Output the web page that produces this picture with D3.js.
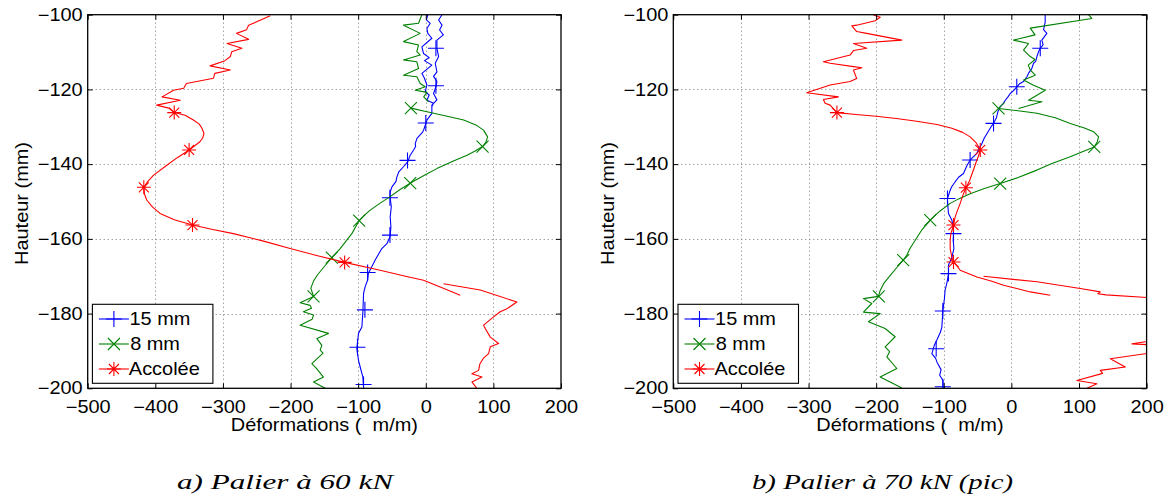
<!DOCTYPE html>
<html>
<head>
<meta charset="utf-8">
<script src="https://cdn.jsdelivr.net/npm/d3@7/dist/d3.min.js"></script>
<style>
  html, body { margin: 0; padding: 0; background: #fff; }
  .sx { transform-box: fill-box; transform-origin: 50% 50%; transform: scaleX(1.14); }
  .sxr { transform-box: fill-box; transform-origin: 100% 50%; transform: scaleX(1.14); }
</style>
</head>
<body>
<svg id="chart" width="1168" height="497"></svg>
<script>
// ---------------- DATA ----------------
const xTicks = [-500, -400, -300, -200, -100, 0, 100, 200];
const yTicks = [-100, -120, -140, -160, -180, -200];
const seriesNames = ["15 mm", "8 mm", "Accolée"];
const captions = ["a) Palier à 60 kN", "b) Palier à 70 kN (pic)"];
const xLabel = "Déformations (\u00a0\u00a0m/m)";
const yLabel = "Hauteur (mm)";

// Panel a (60 kN): [deformation, height]; null = break in the line
const a15 = [[3,-100],[1,-101.4],[6.6,-102.3],[1.7,-103.7],[3,-105],[9,-106.3],[-5.7,-108.6],[-3.3,-110.4],[5,-111.5],[-2,-112.3],[9,-113.5],[-5.7,-115.7],[-2,-117],[1.7,-118.8],[-0.8,-120.6],[5,-121.5],[1.7,-122.9],[11.5,-123.7],[9,-124.6],
  null,
  [24,-100],[19,-101.4],[24,-102.8],[20.4,-104.1],[26,-105.4],[16.5,-106.8],[16.5,-109],[19,-111.2],[14,-113],[16.5,-115.3],[11.5,-116.5],[16.5,-117.9],[15,-119.3],[11.5,-121.1],[16.5,-122.8],[9,-124.2],[9,-126.4],[1.7,-128.2],[0,-129.2],[-3.3,-130.9],[-5,-131.5],[-13,-133.1],[-15.6,-134.5],[-15,-135.3],[-18,-136.2],[-23,-137.6],[-26.5,-139.3],[-33,-140.7],[-40,-142.1],[-42.7,-143.4],[-44,-144.6],[-50,-146.1],[-52.6,-147.4],[-52.6,-149.1],[-51,-151.4],[-52.6,-154.1],[-51.6,-156.8],[-52.6,-159.3],[-57.5,-161.3],[-65,-162.6],[-75,-165.7],[-80,-167.5],[-85,-169.3],[-86,-171],[-89.6,-172.8],[-92,-174.6],[-93,-179.5],[-94.5,-183.6],[-99.5,-185.3],[-102,-189.4],[-99.5,-192.5],[-97,-194.3],[-93,-197],[-92,-200]];
const a15Marks = [[15,-109],[15,-119],[0,-129],[-27,-139],[-53,-149],[-53,-159],[-86,-169],[-90,-179],[-101,-189],[-92,-199]];

const a8 = [[-5.8,-100],[-10.7,-102.3],[-32.9,-102.8],[-8.2,-105],[-32.9,-107.2],[-10.7,-108.1],[-13.2,-109.9],[-8.2,-110.8],[-32.9,-112.1],[-13.2,-112.6],[-10.7,-114.4],[-32.9,-116.2],[-13.2,-116.6],[-8.2,-118.4],[-0.8,-119.3],[-15.6,-120.2],[1.7,-120.8],[-3,-122],[4,-123.3],
  null,
  [-22,-125],[1.7,-126],[30,-127.1],[56,-128.2],[74,-129.5],[85.5,-130.9],[91.4,-132.7],[89,-134.1],[84,-135.3],[73,-136.5],[61,-137.6],[40,-139.2],[16.4,-141.2],[0,-142.8],[-18,-144.6],[-23,-145.1],[-38,-146.8],[-52.6,-148.7],[-68,-150.5],[-82.2,-152.3],[-91,-153.7],[-98.5,-155.1],[-109.3,-158.6],[-118,-160.6],[-126.6,-162.6],[-139,-165],[-150,-167.4],[-160,-169.6],[-166,-171.3],[-170,-173.2],[-166,-175.4],
  [-185.8,-177.1],[-171,-177.8],[-169,-178.6],[-181,-179.5],[-166,-180.4],[-168,-181.5],[-185.8,-183.1],[-143.9,-185.3],[-161,-186.7],[-153.7,-188.5],[-156.2,-189.8],[-152,-190.6],[-168.5,-193.4],[-162,-194.6],[-151.3,-197],[-166,-198.3],[-148.8,-200]];
const a8Marks = [[-22,-125],[84,-135.3],[-23,-145.1],[-98.5,-155.1],[-139,-165],[-166,-175.4]];

const aAcc = [[-230,-100.3],[-245,-101.5],[-262,-102.8],[-265,-104],[-280,-105],[-262,-106.6],[-294,-107.7],[-272,-109],[-287,-109.9],[-289,-111.2],[-297,-112.3],[-319,-113.7],[-289,-114.8],[-312,-115.7],[-314,-117],[-354,-118.4],[-358,-119.7],[-373,-120.2],[-390,-122],[-363,-122.9],[-398,-124.2],[-380,-125],[-372,-126.2],[-356,-126.9],[-343.7,-128.2],[-335,-129.3],[-331,-130.4],[-328,-131.8],[-330,-133],[-334,-134],[-350,-136.2],[-367,-138.2],[-383,-140.3],[-402.9,-143],[-411,-144.6],[-417,-146.2],[-416,-148],[-412.7,-149.6],[-404,-151.5],[-393,-153.2],[-372,-154.9],[-345,-156.3],[-315,-157.5],[-284.5,-158.6],[-240,-160.6],[-200.6,-162.6],[-160,-164.5],[-120,-166.3],[-67.4,-168.4],[-30,-170],[-3.3,-171.1],[21.4,-172.9],[51,-175.1],
  null,
  [26.3,-172],[80.6,-173.7],[134.8,-176.9],[120,-178.7],[110,-179.5],[100.3,-180.9],[85.5,-183.1],[88,-184],[95.4,-186.3],[107.7,-188],[95.4,-188.9],[92.9,-190.7],[85,-192],[80,-193.5],[78.1,-195.2],[68.2,-196.1],[83.1,-197],[68.2,-198.3],[75.6,-200]];
const aAccMarks = [[-372,-126.2],[-350,-136.2],[-417,-146.2],[-345,-156.3],[-120,-166.3]];

// Panel b (70 kN, pic)
const b15 = [[50,-100],[50,-102],[47.6,-104],[52.5,-105],[45,-106.8],[47,-108],[42.7,-109],[40,-110],[37.8,-111.2],[36,-112.5],[32.8,-113],[30,-114.5],[26,-115.5],[23,-116.6],[18,-117.9],[12,-118.5],[8,-119.3],[4,-120.2],[-1.7,-121.1],[-5,-122],[-9,-122.9],[-12,-123.8],[-16.5,-124.6],[-20,-126],[-22,-127.5],[-26.4,-129.1],[-30,-130],[-36,-131.8],[-40,-133],[-43.6,-134.5],[-48,-135.8],[-51,-137.1],[-56,-138],[-61,-138.9],[-66,-140.5],[-70.8,-142.5],[-78,-143.5],[-83,-144.7],[-88,-146],[-90.5,-147],[-94.5,-149.2],[-94,-151],[-93,-153.2],[-88,-155],[-86,-157],[-85.6,-158.6],[-86,-160.4],[-85,-162.6],[-88,-165],[-93,-167],[-93,-169.3],[-95,-171.5],[-98,-173.7],[-99,-176],[-101.4,-179.3],[-102.8,-183.6],[-105,-185],[-110,-187],[-114,-188.5],[-117.6,-190.7],[-112,-192],[-110,-193],[-104,-195],[-106,-196.5],[-101,-198],[-101,-200]];
const b15Marks = [[42.7,-109],[8,-119.3],[-26.4,-129.1],[-61,-138.9],[-94.5,-149.2],[-85.6,-158.6],[-93,-169.3],[-101.4,-179.3],[-111.2,-189.4],[-101.4,-199.6]];

const b8 = [[114,-100],[119,-101],[27.9,-103.6],[35,-105.4],[3.2,-106.8],[25.4,-107.7],[18,-109.5],[27.9,-111.2],[35,-112],[25,-113.5],[27.9,-114.8],[35.3,-116.2],[18,-117.5],[32,-118.8],[50.1,-120.2],[25.4,-122.9],[45.2,-123.3],[10.6,-125.1],
  null,
  [-19,-125.1],[10,-125.7],[37.8,-126.4],[65,-127.6],[87.1,-129.1],[108,-130.3],[121.6,-131.3],[129,-132.7],[127,-134],[122.6,-135.4],[105,-136.7],[87.1,-138],[60,-139.8],[37.8,-141.6],[10,-143.6],[-16.5,-145.2],[-40,-146.5],[-60.9,-147.9],[-78,-149.3],[-90.5,-150.5],[-106,-152.6],[-120,-155],[-132,-157.5],[-142,-160.3],[-150,-162.6],[-155,-164.5],[-160,-165.7],[-170,-167.8],[-180,-170],[-189,-172],[-194,-173.8],[-196.5,-175.4],
  [-218.8,-176],[-206.5,-177.3],[-218.8,-179.6],[-194,-180],[-211.4,-182.2],[-186.7,-184],[-171.9,-186.2],[-186.7,-188.9],[-180,-190.2],[-184.2,-191.6],[-169.4,-194.7],[-194.1,-197],[-179.3,-198.3],[-162,-199.9]];
const b8Marks = [[-19,-125.1],[122.6,-135.4],[-16.5,-145.2],[-120,-155],[-160,-165.7],[-196,-175.4]];

const bAcc = [[-204,-100.1],[-194,-100.7],[-201.5,-101.6],[-228.7,-102.8],[-236,-103],[-228.7,-104.5],[-214,-105],[-162,-106.8],[-233.6,-107.7],[-214,-109],[-233.6,-109.6],[-238.5,-110.8],[-278,-112.6],[-268,-113],[-233.6,-113.9],[-221,-114.2],[-233.6,-114.8],[-228.7,-117.1],[-238.5,-117.9],[-268,-118.8],[-302.7,-120.9],[-255.8,-122],[-278,-122.7],[-275.5,-123.7],[-268,-124.2],[-258,-126.2],
  [-230,-126.7],[-200,-127.2],[-170,-127.8],[-140,-128.5],[-110,-129.4],[-88,-130.4],[-72,-131.5],[-60.9,-132.7],[-52,-134.3],[-46,-136.2],[-48,-137.5],[-51,-138.9],[-56,-141.5],[-62,-144.5],[-67.3,-146.3],[-72,-148.5],[-75.7,-150.5],[-80,-152.5],[-83.1,-154.1],[-85.6,-156.3],[-89.5,-158.6],[-90.5,-160.4],[-90.5,-162.6],[-88,-165],[-85.6,-166.2],[-80,-167.3],[-75.7,-168.4],[-62,-169.4],[-51,-170.2],[-30,-171.3],[-11.6,-172.4],[8,-173.3],[27.9,-174.2],[57.5,-175.1],
  null,
  [-41.2,-170],[37.8,-171.5],[101.9,-173.3],[131.5,-174.2],[128,-174.7],[140,-175],[200.5,-175.7],[230,-176],
  null,
  [235,-186.5],[178.3,-188.1],[235,-188.6],[235,-190.4],[200.5,-190.7],[146.3,-192.1],[168.5,-194.3],[131.5,-195.2],[135,-196],[96.9,-197.9],[126.5,-198.8],[111.7,-200]];
const bAccMarks = [[-258,-126.2],[-46,-136.2],[-67.3,-146.3],[-85.6,-156.3],[-85.6,-166.2]];

const colors = ["#0000ff", "#008000", "#ff0000"];
const markerTypes = ["plus", "cross", "star"];

const panels = [
  { left: 87.7, series: [a15, a8, aAcc], marks: [a15Marks, a8Marks, aAccMarks], caption: captions[0], capX: 177, capW: 216 },
  { left: 673.3, series: [b15, b8, bAcc], marks: [b15Marks, b8Marks, bAccMarks], caption: captions[1], capX: 752, capW: 261 }
];

// ---------------- DRAW ----------------
const SANS = "Liberation Sans, Arial, Helvetica, sans-serif";
const svg = d3.select("#chart");
svg.append("rect").attr("width", 1168).attr("height", 497).attr("fill", "#fff");

const PW = 473.3, TOP = 14.7, BOT = 388.3;
const FS = 17.5;

function markerPath(type, x, y) {
  if (type === "plus") {
    const r = 8;
    return `M${x - r},${y}H${x + r}M${x},${y - r}V${y + r}`;
  } else if (type === "cross") {
    const r = 6;
    return `M${x - r},${y - r}L${x + r},${y + r}M${x - r},${y + r}L${x + r},${y - r}`;
  } else {
    const r = 7, d = 5;
    return `M${x - r},${y}H${x + r}M${x},${y - r}V${y + r}M${x - d},${y - d}L${x + d},${y + d}M${x - d},${y + d}L${x + d},${y - d}`;
  }
}

panels.forEach((p, pi) => {
  const xs = d3.scaleLinear().domain([-500, 200]).range([p.left, p.left + PW]);
  const ys = d3.scaleLinear().domain([-200, -100]).range([BOT, TOP]);
  const g = svg.append("g");

  const clipId = "clip" + pi;
  svg.append("clipPath").attr("id", clipId).append("rect")
    .attr("x", p.left).attr("y", TOP).attr("width", PW).attr("height", BOT - TOP);

  // grid
  const grid = g.append("g").attr("stroke", "#7a7a7a").attr("stroke-width", 1).attr("stroke-dasharray", "1,3");
  grid.selectAll(".gx").data(xTicks.slice(1, -1)).join("line")
    .attr("x1", d => Math.round(xs(d)) + 0.5).attr("x2", d => Math.round(xs(d)) + 0.5)
    .attr("y1", TOP).attr("y2", BOT);
  grid.selectAll(".gy").data(yTicks.slice(1, -1)).join("line")
    .attr("y1", d => Math.round(ys(d)) + 0.5).attr("y2", d => Math.round(ys(d)) + 0.5)
    .attr("x1", p.left).attr("x2", p.left + PW);

  // data lines
  const line = d3.line().defined(d => d !== null).x(d => xs(d[0])).y(d => ys(d[1]));
  const dg = g.append("g").attr("clip-path", `url(#${clipId})`);
  p.series.forEach((s, si) => {
    dg.append("path").attr("d", line(s)).attr("fill", "none")
      .attr("stroke", colors[si]).attr("stroke-width", 1.1).attr("stroke-linejoin", "round");
    dg.append("path")
      .attr("d", p.marks[si].map(m => markerPath(markerTypes[si], xs(m[0]), ys(m[1]))).join(""))
      .attr("fill", "none").attr("stroke", colors[si]).attr("stroke-width", 1.1);
  });

  // axes (ticks inward on all sides)
  const axB = d3.axisBottom(xs).tickValues(xTicks).tickSize(-5).tickPadding(12).tickFormat(d3.format("d"));
  const axT = d3.axisTop(xs).tickValues(xTicks).tickSize(-5).tickFormat("");
  const axL = d3.axisLeft(ys).tickValues(yTicks).tickSize(-5).tickPadding(5).tickFormat(d3.format("d"));
  const axR = d3.axisRight(ys).tickValues(yTicks).tickSize(-5).tickFormat("");
  const gB = g.append("g").attr("transform", `translate(0,${BOT})`).call(axB);
  const gT = g.append("g").attr("transform", `translate(0,${TOP})`).call(axT);
  const gL = g.append("g").attr("transform", `translate(${p.left},0)`).call(axL);
  const gR = g.append("g").attr("transform", `translate(${p.left + PW},0)`).call(axR);
  [gB, gT, gL, gR].forEach(a => {
    a.select(".domain").remove();
    a.selectAll("line").attr("stroke", "#000");
    a.selectAll("text").attr("font-size", FS).attr("font-family", SANS).attr("fill", "#000");
  });
  gL.selectAll("text").attr("class", "sxr");
  gB.selectAll("text").attr("class", "sx").attr("dy", "0.71em");

  // frame
  g.append("rect").attr("x", p.left).attr("y", TOP).attr("width", PW).attr("height", BOT - TOP)
    .attr("fill", "none").attr("stroke", "#000").attr("stroke-width", 1.3);

  // axis labels
  g.append("text").attr("class", "sx").attr("x", p.left + PW / 2).attr("y", 431.5)
    .attr("text-anchor", "middle").attr("font-size", FS).attr("font-family", SANS).text(xLabel);
  g.append("g").attr("transform", `translate(${p.left - 59.5},${(TOP + BOT) / 2 + 2}) rotate(-90)`)
    .append("text").attr("class", "sx").attr("text-anchor", "middle").attr("font-size", FS)
    .attr("font-family", SANS).text(yLabel);

  // legend
  const lx = p.left + 4.7, ly = 304.3;
  const lg = g.append("g");
  lg.append("rect").attr("x", lx).attr("y", ly).attr("width", 120.5).attr("height", 79)
    .attr("fill", "#fff").attr("stroke", "#000").attr("stroke-width", 1.1);
  seriesNames.forEach((name, si) => {
    const yy = ly + 14.7 + si * 25;
    lg.append("line").attr("x1", lx + 6.5).attr("x2", lx + 36.5).attr("y1", yy).attr("y2", yy)
      .attr("stroke", colors[si]).attr("stroke-width", 1.1);
    lg.append("path").attr("d", markerPath(markerTypes[si], lx + 21.5, yy))
      .attr("fill", "none").attr("stroke", colors[si]).attr("stroke-width", 1.1);
    lg.append("text").attr("class", "sx").attr("x", lx + 40.8).attr("y", yy).attr("dy", "0.36em")
      .attr("font-size", FS).attr("font-family", SANS).text(name);
  });

  // caption
  svg.append("text").attr("x", p.capX).attr("y", 489)
    .attr("font-family", "Liberation Serif, Times New Roman, serif").attr("font-style", "italic")
    .attr("font-size", 21).attr("fill", "#000")
    .attr("textLength", p.capW).attr("lengthAdjust", "spacingAndGlyphs")
    .text(p.caption);
});
</script>
</body>
</html>
